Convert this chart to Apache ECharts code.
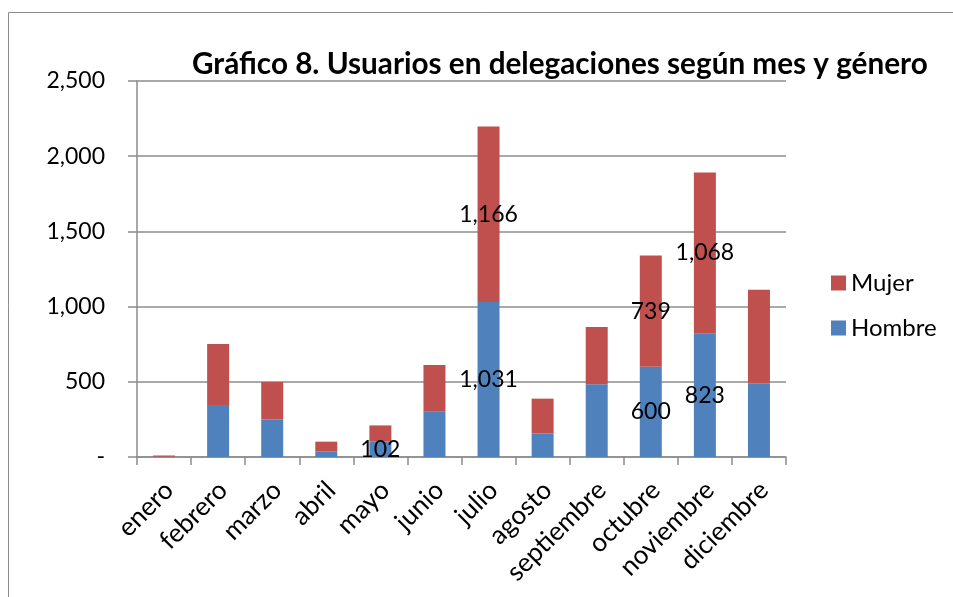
<!DOCTYPE html>
<html>
<head>
<meta charset="utf-8">
<script src="https://cdn.jsdelivr.net/npm/echarts@6/dist/echarts.min.js"></script>
<style>
  html, body { margin: 0; padding: 0; background: #fff; }
  #chart { width: 953px; height: 597px; }
</style>
</head>
<body>
<div id="chart"></div>
<script>
  var meses = ['enero', 'febrero', 'marzo', 'abril', 'mayo', 'junio', 'julio',
    'agosto', 'septiembre', 'octubre', 'noviembre', 'diciembre'];
  var hombre = [2, 346, 250, 38, 102, 301, 1031, 157, 483, 600, 823, 490];
  var mujer = [8, 405, 249, 64, 108, 311, 1166, 231, 381, 739, 1068, 622];
  // which values carry a visible data label in the original
  var hombreEtiqueta = [false, false, false, false, true, false, true, false, false, true, true, false];
  var mujerEtiqueta = [false, false, false, false, false, false, true, false, false, true, true, false];
  var yTicks = [0, 500, 1000, 1500, 2000, 2500];

  var fuente = 'Lato, "Open Sans", sans-serif';

  function fmt(v) {
    if (v === 0) return '-';
    return v.toLocaleString('en-US');
  }

  function serie(valores, etiquetas) {
    return valores.map(function (v, i) {
      return {
        value: v,
        label: { show: etiquetas[i] }
      };
    });
  }

  var myChart = echarts.init(document.getElementById('chart'));

  var option = {
    animation: false,
    graphic: [{
      type: 'rect',
      shape: { x: 8.5, y: 12.5, width: 1000, height: 700 },
      style: { fill: 'none', stroke: '#8c8c8c', lineWidth: 1 },
      silent: true
    }],
    title: {
      text: 'Gráfico 8. Usuarios en delegaciones según mes y género',
      left: 187,
      top: 44,
      textStyle: { fontFamily: fuente, fontWeight: 'bold', fontSize: 29.7, color: '#000' }
    },
    legend: {
      orient: 'vertical',
      left: 826,
      top: 266,
      itemWidth: 15,
      itemHeight: 15,
      itemGap: 21,
      icon: 'rect',
      data: ['Mujer', 'Hombre'],
      textStyle: { fontFamily: fuente, fontSize: 24, color: '#000' }
    },
    grid: { left: 137, right: 167, top: 81, bottom: 140 },
    xAxis: {
      type: 'category',
      data: meses,
      axisLine: { lineStyle: { color: '#8c8c8c', width: 1.5 } },
      axisTick: { show: true, length: 8, lineStyle: { color: '#8c8c8c', width: 1.5 } },
      axisLabel: {
        rotate: 45,
        interval: 0,
        margin: 24,
        verticalAlign: 'top',
        lineHeight: 14,
        fontFamily: fuente,
        fontSize: 26,
        color: '#000'
      }
    },
    yAxis: {
      type: 'value',
      min: 0,
      max: 2500,
      interval: 500,
      axisLine: { show: true, lineStyle: { color: '#8c8c8c', width: 1.5 } },
      axisTick: { show: true, inside: false, length: 9, lineStyle: { color: '#8c8c8c', width: 1.5 } },
      splitLine: { lineStyle: { color: '#8c8c8c', width: 1.5 } },
      axisLabel: {
        margin: 32,
        fontFamily: fuente,
        fontSize: 23,
        color: '#000',
        formatter: function (v) { return yTicks.indexOf(v) >= 0 ? fmt(v) : ''; }
      }
    },
    series: [
      {
        name: 'Hombre',
        type: 'bar',
        stack: 'total',
        barWidth: 22,
        itemStyle: { color: '#4F81BD' },
        label: {
          position: 'inside',
          color: '#000',
          fontFamily: fuente,
          fontSize: 23,
          formatter: function (p) { return fmt(p.value); }
        },
        data: serie(hombre, hombreEtiqueta)
      },
      {
        name: 'Mujer',
        type: 'bar',
        stack: 'total',
        barWidth: 22,
        itemStyle: { color: '#C0504D' },
        label: {
          position: 'inside',
          color: '#000',
          fontFamily: fuente,
          fontSize: 23,
          formatter: function (p) { return fmt(p.value); }
        },
        data: serie(mujer, mujerEtiqueta)
      }
    ]
  };

  myChart.setOption(option);
</script>
</body>
</html>
